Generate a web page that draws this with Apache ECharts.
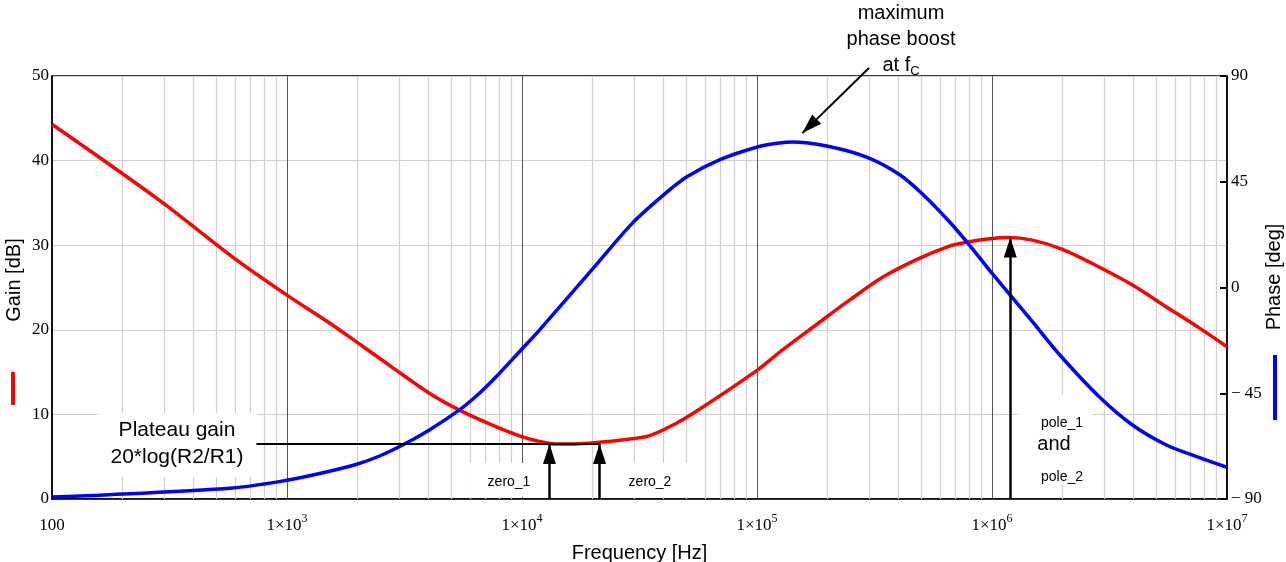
<!DOCTYPE html>
<html lang="en">
<head>
<meta charset="UTF-8">
<title>Gain / Phase</title>
<script src="https://cdn.jsdelivr.net/npm/echarts@6/dist/echarts.min.js"></script>
<style>
    html,body{margin:0;padding:0;background:#fff;}
    #main{width:1286px;height:562px;}
</style>
</head>
<body>
<div id="main"></div>
<script type="text/javascript">

    // frequency [Hz] and gain [dB]
    var gainFreq = [100, 287, 587, 1000, 1517, 1968, 2729, 4036, 5417, 7516, 9900, 11860, 14000, 19400,
        27000, 34900, 45000, 56900, 100000, 128000, 178700, 247500, 342000, 477000, 659000, 778000, 975000,
        1164000, 1486000, 1995000, 2866000, 3960000, 5525000, 7640000, 10000000];
    var gainDb = [44.3, 35.3, 28.6, 24.1, 20.8, 18.6, 15.8, 12.5, 10.5, 8.7, 7.4, 6.8, 6.5, 6.6,
        7.0, 7.5, 8.9, 10.6, 15.2, 17.6, 20.6, 23.5, 26.2, 28.3, 29.9, 30.35, 30.75,
        30.9, 30.6, 29.5, 27.4, 25.3, 22.7, 20.2, 18.0];

    // frequency [Hz] and phase [deg]
    var phaseFreq = [100, 159, 586, 929, 1289, 1968, 2477, 3162, 4036, 5417, 6590, 7762, 9900, 11860, 19770,
        29500, 39600, 50100, 69200, 100400, 124700, 141600, 197800, 292600, 403700, 505800, 659000,
        778000, 975000, 1196000, 1486000, 1936000, 2866000, 3960000, 5525000, 7640000, 10000000];
    var phaseDeg = [-89.1, -88.4, -85.3, -82.6, -79.8, -75.3, -71.7, -66.6, -60.6, -52.1, -45.0, -38.0, -26.6, -18.1, 7.4,
        27.4, 39.0, 47.0, 54.3, 59.8, 61.5, 61.9, 60.2, 55.5, 48.1, 39.8, 28.0,
        19.6, 7.4, -3.2, -14.5, -28.5, -46.6, -58.5, -67.0, -72.4, -76.5];

    // annotation anchors
    var zeroFreqs = [13090, 21380];
    var poleFreq = 1196000;
    var plateauDb = 6.5;
    var plateauStartFreq = 741;
    var poleDb = 30.9;
    var boostFreq = 156000;
    var boostDeg = 65.7;

    var decadeLabels = {2: '100', 3: '1×10{sup|3}', 4: '1×10{sup|4}', 5: '1×10{sup|5}', 6: '1×10{sup|6}', 7: '1×10{sup|7}'};

    function zip(a, b) {
        var out = [];
        for (var i = 0; i < a.length; i++) out.push([a[i], b[i]]);
        return out;
    }

    // light grid lines at 2..9 of each decade
    var minorGrid = [];
    for (var e = 2; e < 7; e++) {
        for (var m = 2; m < 10; m++) minorGrid.push({xAxis: m * Math.pow(10, e)});
    }

    var serif = '"Liberation Serif", "DejaVu Serif", serif';
    var sans = '"Liberation Sans", Arial, sans-serif';
    // solid arrow head, narrow and long
    var arrowHead = 'path://M6.5,0 L13,20 L0,20 Z';

    var myChart = echarts.init(document.getElementById('main'));

    var option = {
        animation: false,
        grid: {
            left: 52, right: 59, top: 76, bottom: 63,
            containLabel: false, outerBoundsMode: 'none',
            show: true, borderColor: '#000', borderWidth: 1.5, backgroundColor: 'transparent'
        },
        xAxis: {
            type: 'log', logBase: 10, min: 100, max: 10000000,
            name: 'Frequency [Hz]', nameLocation: 'middle', nameGap: 36,
            nameTextStyle: {fontFamily: sans, fontSize: 20, color: '#000'},
            axisLine: {lineStyle: {color: '#000', width: 1.5}},
            axisTick: {show: false},
            axisLabel: {
                fontFamily: serif, fontSize: 17, color: '#000', margin: 14, lineHeight: 26,
                formatter: function (v) {
                    return decadeLabels[Math.round(Math.log10(v))];
                },
                rich: {sup: {fontFamily: serif, fontSize: 12, lineHeight: 12, verticalAlign: 'top', color: '#000'}}
            },
            splitLine: {show: true, lineStyle: {color: '#555', width: 1}}
        },
        yAxis: [{
            type: 'value', min: 0, max: 50, interval: 10,
            axisLine: {show: true, lineStyle: {color: '#000', width: 1.5}},
            axisTick: {show: false},
            axisLabel: {fontFamily: serif, fontSize: 17, color: '#000', margin: 3},
            splitLine: {show: true, lineStyle: {color: '#d0d0d0', width: 1.2}}
        }, {
            type: 'value', min: -90, max: 90, interval: 45, position: 'right',
            axisLine: {show: true, lineStyle: {color: '#000', width: 1.5}},
            axisTick: {show: true, inside: true, length: 7, lineStyle: {color: '#000', width: 2}},
            axisLabel: {
                fontFamily: serif, fontSize: 17, color: '#000', margin: 4,
                formatter: function (v) { return v < 0 ? '\u2212 ' + (-v) : '' + v; }
            },
            splitLine: {show: false}
        }],
        series: [{
            name: 'grid',
            type: 'line',
            data: [],
            silent: true,
            markLine: {
                silent: true, z: 1, symbol: ['none', 'none'],
                label: {show: false},
                lineStyle: {color: '#d0d0d0', width: 1.2, type: 'solid'},
                emphasis: {disabled: true},
                data: minorGrid
            }
        }, {
            name: 'Gain',
            type: 'line',
            yAxisIndex: 0,
            data: zip(gainFreq, gainDb),
            showSymbol: false,
            smooth: 0.3,
            lineStyle: {color: '#ff0000', width: 3.5},
            itemStyle: {color: '#ff0000'},
            markLine: {
                silent: true, z: 5,
                symbol: ['none', arrowHead],
                symbolSize: 20,
                symbolKeepAspect: true,
                symbolOffset: [[0, 0], [0, 10]],
                label: {show: false},
                lineStyle: {color: '#000', width: 2.5, type: 'solid'},
                emphasis: {disabled: true},
                data: [
                    [{coord: [plateauStartFreq, plateauDb], symbol: 'none', lineStyle: {width: 2}},
                        {coord: [zeroFreqs[1], plateauDb], symbol: 'none'}],
                    [{coord: [zeroFreqs[0], 0]}, {coord: [zeroFreqs[0], plateauDb]}],
                    [{coord: [zeroFreqs[1], 0]}, {coord: [zeroFreqs[1], plateauDb]}],
                    [{coord: [poleFreq, 0]}, {coord: [poleFreq, poleDb]}]
                ]
            }
        }, {
            name: 'Phase',
            type: 'line',
            yAxisIndex: 1,
            data: zip(phaseFreq, phaseDeg),
            showSymbol: false,
            smooth: 0.3,
            lineStyle: {color: '#0000ff', width: 3.5},
            itemStyle: {color: '#0000ff'},
            markLine: {
                silent: true, z: 5,
                symbol: ['none', arrowHead],
                symbolSize: 20,
                symbolKeepAspect: true,
                symbolOffset: [[0, 0], [0, 10]],
                label: {show: false},
                lineStyle: {color: '#000', width: 2, type: 'solid'},
                emphasis: {disabled: true},
                data: [[{x: 869, y: 68}, {coord: [boostFreq, boostDeg]}]]
            }
        }],
        graphic: [
            // axis names with their colour keys
            {type: 'text', x: 14, y: 280, rotation: Math.PI / 2,
                style: {text: 'Gain [dB]', font: '20px ' + sans, fill: '#000', align: 'center', verticalAlign: 'middle'}},
            {type: 'rect', shape: {x: 11, y: 372, width: 4, height: 33}, style: {fill: '#ff0000'}},
            {type: 'text', x: 1274, y: 277, rotation: Math.PI / 2,
                style: {text: 'Phase [deg]', font: '20px ' + sans, fill: '#000', align: 'center', verticalAlign: 'middle'}},
            {type: 'rect', shape: {x: 1273, y: 355, width: 4, height: 65}, style: {fill: '#0000ff'}},

            // white boxes behind the notes
            {type: 'rect', z: 1.5, shape: {x: 98, y: 413, width: 159, height: 64}, style: {fill: '#fff'}},
            {type: 'rect', z: 1.5, shape: {x: 470, y: 463, width: 75, height: 34}, style: {fill: '#fff'}},
            {type: 'rect', z: 1.5, shape: {x: 612, y: 463, width: 78, height: 34}, style: {fill: '#fff'}},
            {type: 'rect', z: 1.5, shape: {x: 1018, y: 395, width: 74, height: 90}, style: {fill: '#fff'}},

            {type: 'text', z: 6, x: 901, y: 0,
                style: {text: 'maximum\nphase boost\nat f{c|C}', font: '20px ' + sans, fill: '#000',
                    align: 'center', verticalAlign: 'top', lineHeight: 26,
                    rich: {c: {font: '13px ' + sans, fill: '#000', verticalAlign: 'bottom', lineHeight: 18}}}},
            {type: 'text', z: 6, x: 177, y: 444,
                style: {text: 'Plateau gain\n20*log(R2/R1)', font: '21px ' + sans, fill: '#000',
                    align: 'center', verticalAlign: 'middle', lineHeight: 27}},
            {type: 'text', z: 6, x: 509, y: 482,
                style: {text: 'zero_1', font: '14px ' + sans, fill: '#000', align: 'center', verticalAlign: 'middle'}},
            {type: 'text', z: 6, x: 650, y: 482,
                style: {text: 'zero_2', font: '14px ' + sans, fill: '#000', align: 'center', verticalAlign: 'middle'}},
            {type: 'text', z: 6, x: 1062, y: 423,
                style: {text: 'pole_1', font: '14px ' + sans, fill: '#000', align: 'center', verticalAlign: 'middle'}},
            {type: 'text', z: 6, x: 1054, y: 444,
                style: {text: 'and', font: '20px ' + sans, fill: '#000', align: 'center', verticalAlign: 'middle'}},
            {type: 'text', z: 6, x: 1062, y: 477,
                style: {text: 'pole_2', font: '14px ' + sans, fill: '#000', align: 'center', verticalAlign: 'middle'}}
        ]
    };

    myChart.setOption(option);

</script>
</body>
</html>
